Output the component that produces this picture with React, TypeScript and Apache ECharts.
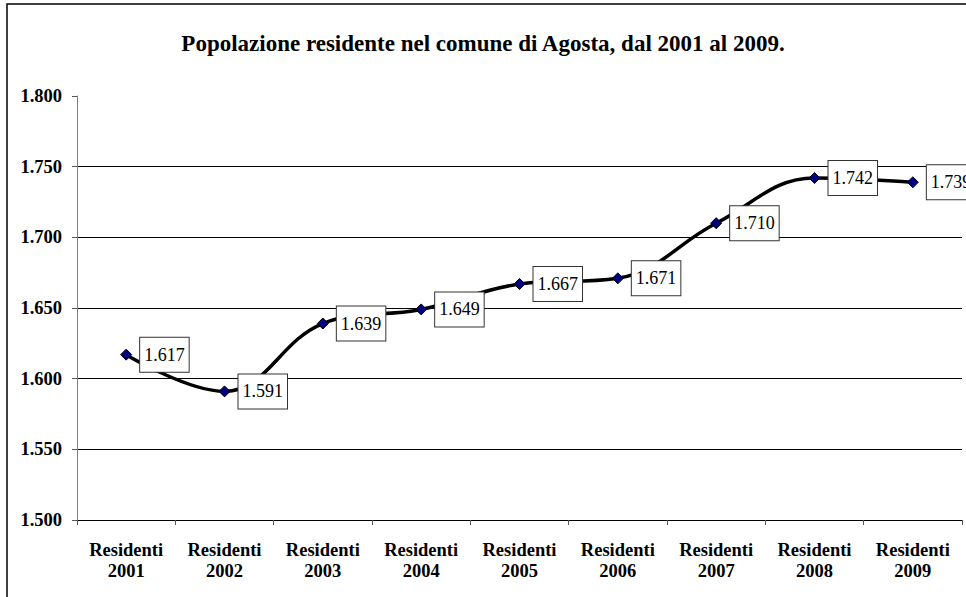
import React, { useEffect, useRef } from "react";
import * as echarts from "echarts";

const titleText = "Popolazione residente nel comune di Agosta, dal 2001 al 2009.";
const categories = [
  "Residenti\n2001",
  "Residenti\n2002",
  "Residenti\n2003",
  "Residenti\n2004",
  "Residenti\n2005",
  "Residenti\n2006",
  "Residenti\n2007",
  "Residenti\n2008",
  "Residenti\n2009",
];
const residents = [1617, 1591, 1639, 1649, 1667, 1671, 1710, 1742, 1739];
const yMin = 1500;
const yMax = 1800;
const yStep = 50;

const SERIF = "'Liberation Serif', 'DejaVu Serif', serif";

function fmt(v: number): string {
  const s = String(Math.round(v));
  return s.replace(/\B(?=(\d{3})+(?!\d))/g, ".");
}

export default function App() {
  const ref = useRef<HTMLDivElement>(null);
  useEffect(() => {
    if (!ref.current) return;
    const chart = echarts.init(ref.current, null, { renderer: "svg" });
    chart.setOption({
      animation: false,
      backgroundColor: "#fff",
      title: {
        text: titleText,
        left: "center",
        top: 27,
        textStyle: {
          fontFamily: SERIF,
          fontSize: 23,
          fontWeight: "bold",
          color: "#000",
        },
      },
      graphic: [
        {
          type: "rect",
          shape: { x: 7, y: 4, width: 1000, height: 700 },
          style: { fill: "none", stroke: "#000", lineWidth: 1.5 },
          silent: true,
        },
      ],
      grid: { left: 77, right: 4, top: 96, bottom: 77, containLabel: false },
      xAxis: {
        type: "category",
        data: categories,
        boundaryGap: true,
        axisLine: { show: true, lineStyle: { color: "#000", width: 1 } },
        axisTick: { show: true, length: 5, lineStyle: { color: "#555" } },
        axisLabel: {
          interval: 0,
          margin: 19,
          fontFamily: SERIF,
          fontSize: 18.5,
          fontWeight: "bold",
          color: "#000",
          lineHeight: 21,
        },
      },
      yAxis: {
        type: "value",
        min: yMin,
        max: yMax,
        interval: yStep,
        axisLine: { show: true, lineStyle: { color: "#808080", width: 1 } },
        axisTick: { show: true, length: 5, lineStyle: { color: "#555" } },
        axisLabel: {
          margin: 15,
          fontFamily: SERIF,
          fontSize: 18.5,
          fontWeight: "bold",
          color: "#000",
          formatter: (v: number) => fmt(v),
        },
        splitLine: {
          show: true,
          showMaxLine: false,
          lineStyle: { color: "#000", width: 1 },
        },
      },
      series: [
        {
          type: "line",
          data: residents,
          smooth: 0.4,
          symbol: "diamond",
          symbolSize: 11,
          lineStyle: { color: "#000", width: 3.5 },
          itemStyle: { color: "#000080", borderColor: "#000", borderWidth: 1 },
          label: {
            show: true,
            position: "right",
            distance: 8,
            formatter: (p: any) => fmt(p.value),
            fontFamily: SERIF,
            fontSize: 18,
            color: "#000",
            backgroundColor: "#fff",
            borderColor: "#333",
            borderWidth: 1,
            padding: [8, 4, 6, 4],
            lineHeight: 20,
          },
          z: 3,
        },
      ],
    });
    return () => chart.dispose();
  }, []);
  return (
    <div
      ref={ref}
      style={{ position: "fixed", left: 0, top: 0, width: 966, height: 597 }}
    />
  );
}
